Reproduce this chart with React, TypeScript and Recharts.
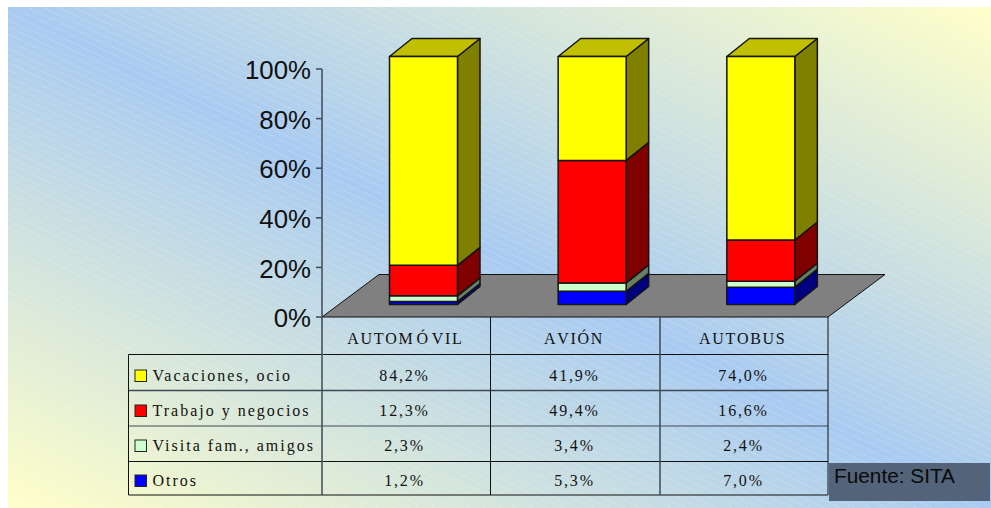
import { BarChart, Bar, XAxis, YAxis, usePlotArea } from "recharts";

const categories = ["AUTOMÓVIL", "AVIÓN", "AUTOBUS"];
const seriesNames = ["Vacaciones, ocio", "Trabajo y negocios", "Visita fam., amigos", "Otros"];
const vacaciones = [84.2, 41.9, 74.0];
const trabajo = [12.3, 49.4, 16.6];
const visita = [2.3, 3.4, 2.4];
const otros = [1.2, 5.3, 7.0];
const yTicks = [0, 20, 40, 60, 80, 100];

const frontColors = ["#ffff00", "#ff0000", "#ccffcc", "#0000ff"];
const sideColors = ["#808000", "#800000", "#668066", "#000080"];
const TOP_COLOR = "#c0c000";
const INK = "#111";
const AXIS_GREY = "#3f4a56";
const SERIF = "'Liberation Serif', serif";
const SANS = "'Liberation Sans', sans-serif";

// 3D look: front faces sit in front of the axis plane
const SHIFT_X = 17.5;
const SHIFT_Y = -12.5;
const DEPTH_X = 22.5;
const DEPTH_Y = -18;
const FLOOR_X = 57;
const FLOOR_Y = -42.5;

const data = categories.map((name, i) => ({
  name,
  vacaciones: vacaciones[i],
  trabajo: trabajo[i],
  visita: visita[i],
  otros: otros[i],
}));

const fmt = (v: number) => v.toFixed(1).replace(".", ",") + "%";
const tableRows = [vacaciones, trabajo, visita, otros];

function Block({ x, y, width, height, front, side, showTop }: any) {
  const l = x + SHIFT_X;
  const t = y + SHIFT_Y;
  const r = l + width;
  const b = t + height;
  const line = { stroke: "#141414", strokeWidth: 1.5, strokeLinejoin: "round" as const };
  return (
    <g>
      <polygon
        points={`${r},${t} ${r + DEPTH_X},${t + DEPTH_Y} ${r + DEPTH_X},${b + DEPTH_Y} ${r},${b}`}
        fill={side}
        {...line}
      />
      {showTop && (
        <polygon
          points={`${l},${t} ${l + DEPTH_X},${t + DEPTH_Y} ${r + DEPTH_X},${t + DEPTH_Y} ${r},${t}`}
          fill={TOP_COLOR}
          {...line}
        />
      )}
      <rect x={l} y={t} width={width} height={height} fill={front} {...line} />
    </g>
  );
}

function Floor() {
  const plot = usePlotArea();
  if (!plot) return null;
  const l = plot.x;
  const r = plot.x + plot.width;
  const b = plot.y + plot.height;
  return (
    <polygon
      points={`${l},${b} ${l + FLOOR_X},${b + FLOOR_Y} ${r + FLOOR_X},${b + FLOOR_Y} ${r},${b}`}
      fill="#808080"
      stroke="#111"
      strokeWidth={1}
    />
  );
}

function CategoryTick({ x, y, payload }: any) {
  const label: string = payload.value;
  const accent = label.indexOf("Ó");
  // the wide-set Ó only shows in the first label
  const spaced = label === categories[0];
  return (
    <text
      x={x - 1}
      y={y + 19}
      textAnchor="middle"
      fontFamily={SERIF}
      fontSize={16}
      letterSpacing={1.7}
      fill={INK}
      style={{ fontKerning: "none" }}
    >
      {spaced ? (
        <>
          {label.slice(0, accent)}
          <tspan dx={2}>{label[accent]}</tspan>
          <tspan dx={2}>{label.slice(accent + 1)}</tspan>
        </>
      ) : (
        label
      )}
    </text>
  );
}

// table under the chart
const colX = [128.5, 322, 490.5, 660, 828];
const rowY = [317, 354.5, 390.5, 426, 461.5, 495];
const baselines = [381, 416, 451, 486];
const valueX = [404.5, 574.5, 743.5];

function DataTable() {
  return (
    <svg width={991} height={508} style={{ position: "absolute", left: 0, top: 0 }}>
      <g stroke={INK} strokeWidth={1}>
        <line x1={colX[0]} x2={colX[4]} y1={rowY[1]} y2={rowY[1]} />
        <line x1={colX[0]} x2={colX[4]} y1={rowY[2]} y2={rowY[2]} stroke={AXIS_GREY} strokeWidth={1.5} />
        <line x1={colX[0]} x2={colX[4]} y1={rowY[3]} y2={rowY[3]} stroke={AXIS_GREY} />
        <line x1={colX[0]} x2={colX[4]} y1={rowY[4]} y2={rowY[4]} />
        <line x1={colX[0]} x2={colX[4]} y1={rowY[5]} y2={rowY[5]} />
        <line x1={colX[0]} x2={colX[0]} y1={rowY[1]} y2={rowY[5]} />
        <line x1={colX[1]} x2={colX[1]} y1={rowY[0]} y2={rowY[5]} stroke={AXIS_GREY} strokeWidth={1.5} />
        <line x1={colX[2]} x2={colX[2]} y1={rowY[0]} y2={rowY[5]} />
        <line x1={colX[3]} x2={colX[3]} y1={rowY[0]} y2={rowY[5]} stroke={AXIS_GREY} strokeWidth={1.5} />
        <line x1={colX[4]} x2={colX[4]} y1={rowY[0]} y2={rowY[5]} />
      </g>
      {seriesNames.map((name, i) => (
        <g key={name}>
          <rect
            x={135}
            y={baselines[i] - 11}
            width={11.5}
            height={11.5}
            fill={frontColors[i]}
            stroke="#222"
            strokeWidth={1}
          />
          <text x={152.5} y={baselines[i]} fontFamily={SERIF} fontSize={16} letterSpacing={2} fill={INK}>
            {name}
          </text>
          {tableRows[i].map((v, c) => (
            <text
              key={c}
              x={valueX[c]}
              y={baselines[i]}
              textAnchor="middle"
              fontFamily={SERIF}
              fontSize={16}
              letterSpacing={1.8}
              fill={INK}
            >
              {fmt(v)}
            </text>
          ))}
        </g>
      ))}
      <rect x={829} y={463} width={161} height={38} fill="#536379" />
      <text x={834} y={483} fontFamily={SANS} fontSize={20.8} fill="#0a0a0a">
        Fuente: SITA
      </text>
    </svg>
  );
}

export default function App() {
  return (
    <div style={{ position: "absolute", left: 0, top: 0, width: 991, height: 508, overflow: "hidden", background: "#fff" }}>
      {/* gradient backdrop with the faint diagonal hatch */}
      <div
        style={{
          position: "absolute",
          left: 8,
          top: 7,
          width: 983,
          height: 501,
          backgroundImage:
            "repeating-linear-gradient(25deg, rgba(255,255,255,0.13) 0 1px, rgba(255,255,255,0) 1px 6.5px), linear-gradient(to top right, #ffffc8 0%, #a9cbf1 50%, #ffffc8 100%)",
        }}
      />
      <div style={{ position: "absolute", left: 0, top: 0 }}>
        <BarChart
          width={991}
          height={508}
          data={data}
          margin={{ top: 69, right: 163, bottom: 151, left: 252 }}
          barSize={68}
          style={{ overflow: "visible" }}
        >
          <Floor />
          <XAxis dataKey="name" height={40} axisLine={false} tickLine={false} tick={<CategoryTick />} />
          <YAxis
            width={70}
            domain={[0, 100]}
            ticks={yTicks}
            tickFormatter={(v) => `${v}%`}
            tick={{ fontFamily: SANS, fontSize: 25.8, fill: INK, dy: 1 }}
            axisLine={{ stroke: AXIS_GREY, strokeWidth: 1.5 }}
            tickLine={{ stroke: AXIS_GREY, strokeWidth: 1.5 }}
            tickSize={6}
            tickMargin={5}
          />
          <Bar
            dataKey="otros"
            stackId="a"
            isAnimationActive={false}
            shape={(p: any) => <Block {...p} front={frontColors[3]} side={sideColors[3]} />}
          />
          <Bar
            dataKey="visita"
            stackId="a"
            isAnimationActive={false}
            shape={(p: any) => <Block {...p} front={frontColors[2]} side={sideColors[2]} />}
          />
          <Bar
            dataKey="trabajo"
            stackId="a"
            isAnimationActive={false}
            shape={(p: any) => <Block {...p} front={frontColors[1]} side={sideColors[1]} />}
          />
          <Bar
            dataKey="vacaciones"
            stackId="a"
            isAnimationActive={false}
            shape={(p: any) => <Block {...p} front={frontColors[0]} side={sideColors[0]} showTop />}
          />
        </BarChart>
      </div>
      <DataTable />
    </div>
  );
}
